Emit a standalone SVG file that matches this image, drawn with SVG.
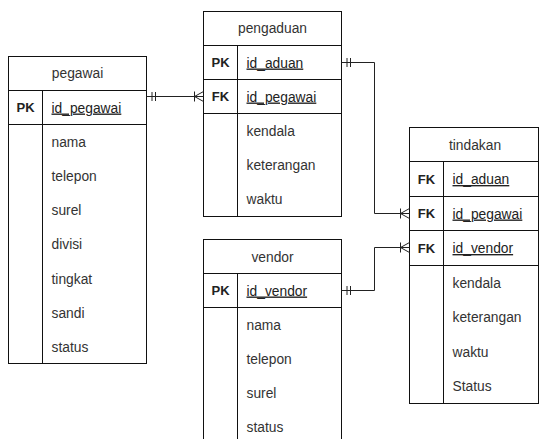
<svg xmlns="http://www.w3.org/2000/svg" width="540" height="439" viewBox="0 0 540 439">
<style>
.box{fill:#fff;stroke:#111;stroke-width:1}
.ln{stroke:#111;stroke-width:1;fill:none}
text{font-family:"Liberation Sans",Arial,sans-serif;font-size:13.8px;fill:#333}
.hd{text-anchor:middle}
.key{text-anchor:middle;font-weight:bold;font-size:13px;fill:#222}
.pk{text-decoration:underline;fill:#222}
.edge{stroke:#222;stroke-width:1;fill:none}
</style>
<defs>
<marker id="one" markerUnits="userSpaceOnUse" viewBox="-12 -12 24 24" markerWidth="24" markerHeight="24" refX="0" refY="0" orient="auto" overflow="visible">
<path d="M5.5,-4.5V4.5M9,-4.5V4.5" stroke="#222" stroke-width="1" fill="none"/>
</marker>
<marker id="many" markerUnits="userSpaceOnUse" viewBox="-12 -12 24 24" markerWidth="24" markerHeight="24" refX="0" refY="0" orient="auto" overflow="visible">
<path d="M0,-5L-9,0L0,5M-9,-5V5" stroke="#222" stroke-width="1" fill="none"/>
</marker>
</defs>
<rect width="540" height="439" fill="#fff"/>
<g id="pegawai">
<rect class="box" x="8.5" y="56.5" width="138" height="307"/>
<path class="ln" d="M8.5,90.5H146.5M8.5,124.5H146.5M42.5,90.5V363.5"/>
<text class="hd" x="77.5" y="78.3">pegawai</text>
<text class="key" x="25.5" y="112.2">PK</text>
<text class="pk" x="51.5" y="112.5">id_pegawai</text>
<text x="51.5" y="146.7">nama</text>
<text x="51.5" y="180.9">telepon</text>
<text x="51.5" y="215.1">surel</text>
<text x="51.5" y="249.3">divisi</text>
<text x="51.5" y="283.5">tingkat</text>
<text x="51.5" y="317.7">sandi</text>
<text x="51.5" y="351.9">status</text>
</g>
<g id="pengaduan">
<rect class="box" x="203.5" y="11.5" width="138" height="205"/>
<path class="ln" d="M203.5,45.5H341.5M203.5,79.5H341.5M203.5,113.5H341.5M237.5,45.5V216.5"/>
<text class="hd" x="272.5" y="33.3">pengaduan</text>
<text class="key" x="220.5" y="67.2">PK</text>
<text class="pk" x="246.5" y="67.5">id_aduan</text>
<text class="key" x="220.5" y="101.2">FK</text>
<text class="pk" x="246.5" y="101.5">id_pegawai</text>
<text x="246.5" y="135.7">kendala</text>
<text x="246.5" y="169.9">keterangan</text>
<text x="246.5" y="204.1">waktu</text>
</g>
<g id="vendor">
<rect class="box" x="203.5" y="239.5" width="138" height="215"/>
<path class="ln" d="M203.5,273.5H341.5M203.5,307.5H341.5M237.5,273.5V454"/>
<text class="hd" x="272.5" y="261.5">vendor</text>
<text class="key" x="220.5" y="295.2">PK</text>
<text class="pk" x="246.5" y="295.5">id_vendor</text>
<text x="246.5" y="329.7">nama</text>
<text x="246.5" y="363.9">telepon</text>
<text x="246.5" y="398.1">surel</text>
<text x="246.5" y="432.3">status</text>
</g>
<g id="tindakan">
<rect class="box" x="409.5" y="127.5" width="129" height="276"/>
<path class="ln" d="M409.5,161.5H538.5M409.5,196.5H538.5M409.5,230.5H538.5M409.5,265.5H538.5M443.5,161.5V403.5"/>
<text class="hd" x="475" y="149.5">tindakan</text>
<text class="key" x="426.5" y="183.7">FK</text>
<text class="pk" x="452.5" y="184">id_aduan</text>
<text class="key" x="426.5" y="218.2">FK</text>
<text class="pk" x="452.5" y="218.5">id_pegawai</text>
<text class="key" x="426.5" y="252.7">FK</text>
<text class="pk" x="452.5" y="253">id_vendor</text>
<text x="452.5" y="287.5">kendala</text>
<text x="452.5" y="322">keterangan</text>
<text x="452.5" y="356.5">waktu</text>
<text x="452.5" y="391">Status</text>
</g>
<g id="connectors">
<path class="edge" d="M146.5,96.5H203.5" marker-start="url(#one)" marker-end="url(#many)"/>
<path class="edge" d="M341.5,62.5H374.5V213.5H409.5" marker-start="url(#one)" marker-end="url(#many)"/>
<path class="edge" d="M341.5,290.5H374.5V247.5H409.5" marker-start="url(#one)" marker-end="url(#many)"/>
</g>
</svg>
